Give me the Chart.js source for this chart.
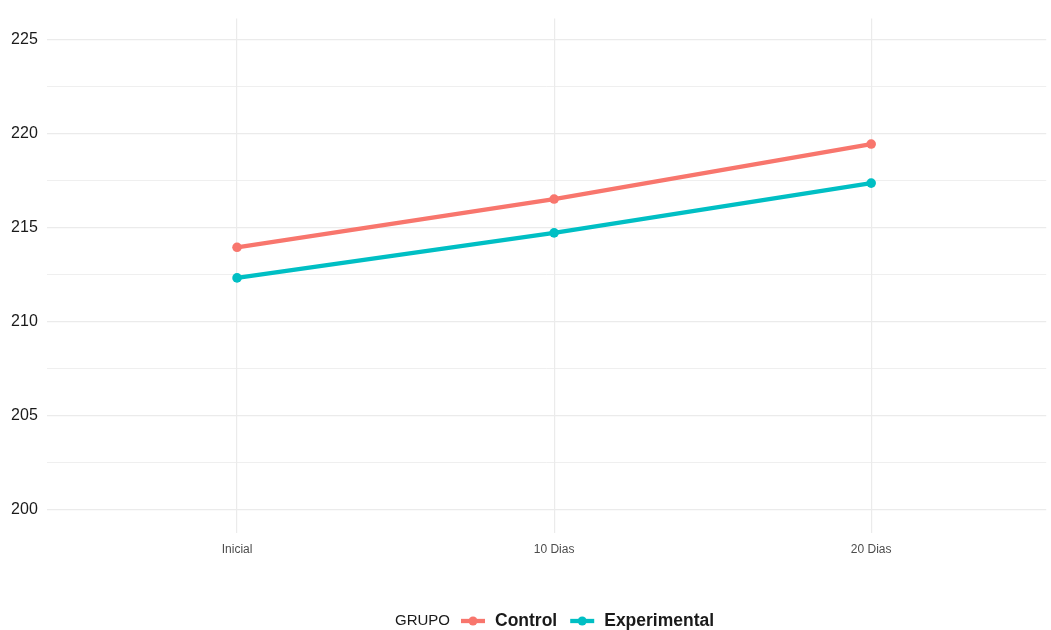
<!DOCTYPE html>
<html lang="es">
<head>
    <meta charset="UTF-8">
    <title>GRUPO</title>
    <script src="https://cdn.jsdelivr.net/npm/chart.js@4.4.0/dist/chart.umd.min.js"></script>
    <style>
        html, body { margin: 0; padding: 0; background: #ffffff; }
        #wrap { width: 1051px; height: 630px; position: relative; }
    </style>
</head>
<body>
<div id="wrap"><canvas id="chart"></canvas></div>
<script>
    // Data
    const categories = ['Inicial', '10 Dias', '20 Dias'];
    const controlValues = [213.96, 216.53, 219.46];
    const experimentalValues = [212.33, 214.73, 217.38];
    const yTickValues = [200, 202.5, 205, 207.5, 210, 212.5, 215, 217.5, 220, 222.5, 225];
    const legendTitle = 'GRUPO';
    const seriesNames = ['Control', 'Experimental'];
    const seriesColors = ['#F8766D', '#00BFC4'];

    const toPoints = vals => vals.map((v, i) => ({ x: i, y: v }));

    // ggplot-like legend at the bottom: title, then line+dot keys with bold labels
    const bottomLegend = {
        id: 'bottomLegend',
        afterDraw(chart) {
            const ctx = chart.ctx;
            const y = 621;
            ctx.save();
            ctx.textBaseline = 'middle';
            ctx.font = '15px "Liberation Sans", Arial, sans-serif';
            ctx.fillStyle = '#1a1a1a';
            let x = 395;
            ctx.fillText(legendTitle, x, y);
            x += ctx.measureText(legendTitle).width + 11;
            seriesNames.forEach((name, i) => {
                ctx.strokeStyle = seriesColors[i];
                ctx.lineWidth = 4.3;
                ctx.beginPath();
                ctx.moveTo(x, y);
                ctx.lineTo(x + 24, y);
                ctx.stroke();
                ctx.fillStyle = seriesColors[i];
                ctx.beginPath();
                ctx.arc(x + 12, y, 4.5, 0, Math.PI * 2);
                ctx.fill();
                x += 34;
                ctx.font = 'bold 17.5px "Liberation Sans", Arial, sans-serif';
                ctx.fillStyle = '#1a1a1a';
                ctx.fillText(name, x, y);
                x += ctx.measureText(name).width + 13;
            });
            ctx.restore();
        }
    };

    const makeDataset = (i, vals) => ({
        label: seriesNames[i],
        data: toPoints(vals),
        borderColor: seriesColors[i],
        backgroundColor: seriesColors[i],
        borderWidth: 4.3,
        pointRadius: 4.8,
        pointBorderWidth: 0,
        tension: 0
    });

    new Chart(document.getElementById('chart'), {
        type: 'line',
        data: {
            datasets: [
                makeDataset(0, controlValues),
                makeDataset(1, experimentalValues)
            ]
        },
        options: {
            responsive: true,
            maintainAspectRatio: false,
            animation: false,
            layout: { padding: { top: 5, right: 0, left: 0, bottom: 0 } },
            plugins: {
                legend: { display: false },
                tooltip: { enabled: false }
            },
            scales: {
                x: {
                    type: 'linear',
                    min: -0.6,
                    max: 2.552,
                    afterBuildTicks: axis => { axis.ticks = categories.map((_, i) => ({ value: i })); },
                    afterFit: axis => { axis.height = 97.5; },
                    border: { display: false },
                    grid: { color: '#ebebeb', lineWidth: 1.2, drawTicks: false },
                    ticks: {
                        padding: 10,
                        color: '#4d4d4d',
                        font: { family: '"Liberation Sans Narrow", "Liberation Sans", Arial, sans-serif', size: 12 },
                        callback: v => categories[v]
                    }
                },
                y: {
                    min: 198.77,
                    max: 226.14,
                    afterBuildTicks: axis => { axis.ticks = yTickValues.map(v => ({ value: v })); },
                    afterFit: axis => { axis.width = 46.8; },
                    border: { display: false },
                    grid: {
                        color: '#ebebeb',
                        drawTicks: false,
                        lineWidth: c => (c.tick && c.tick.value % 5 === 0) ? 1.2 : 0.8
                    },
                    ticks: {
                        padding: 9,
                        color: '#1a1a1a',
                        font: { family: '"Liberation Sans", Arial, sans-serif', size: 16 },
                        callback: v => (v % 5 === 0 ? String(v) : '')
                    }
                }
            }
        },
        plugins: [bottomLegend]
    });
</script>
</body>
</html>
